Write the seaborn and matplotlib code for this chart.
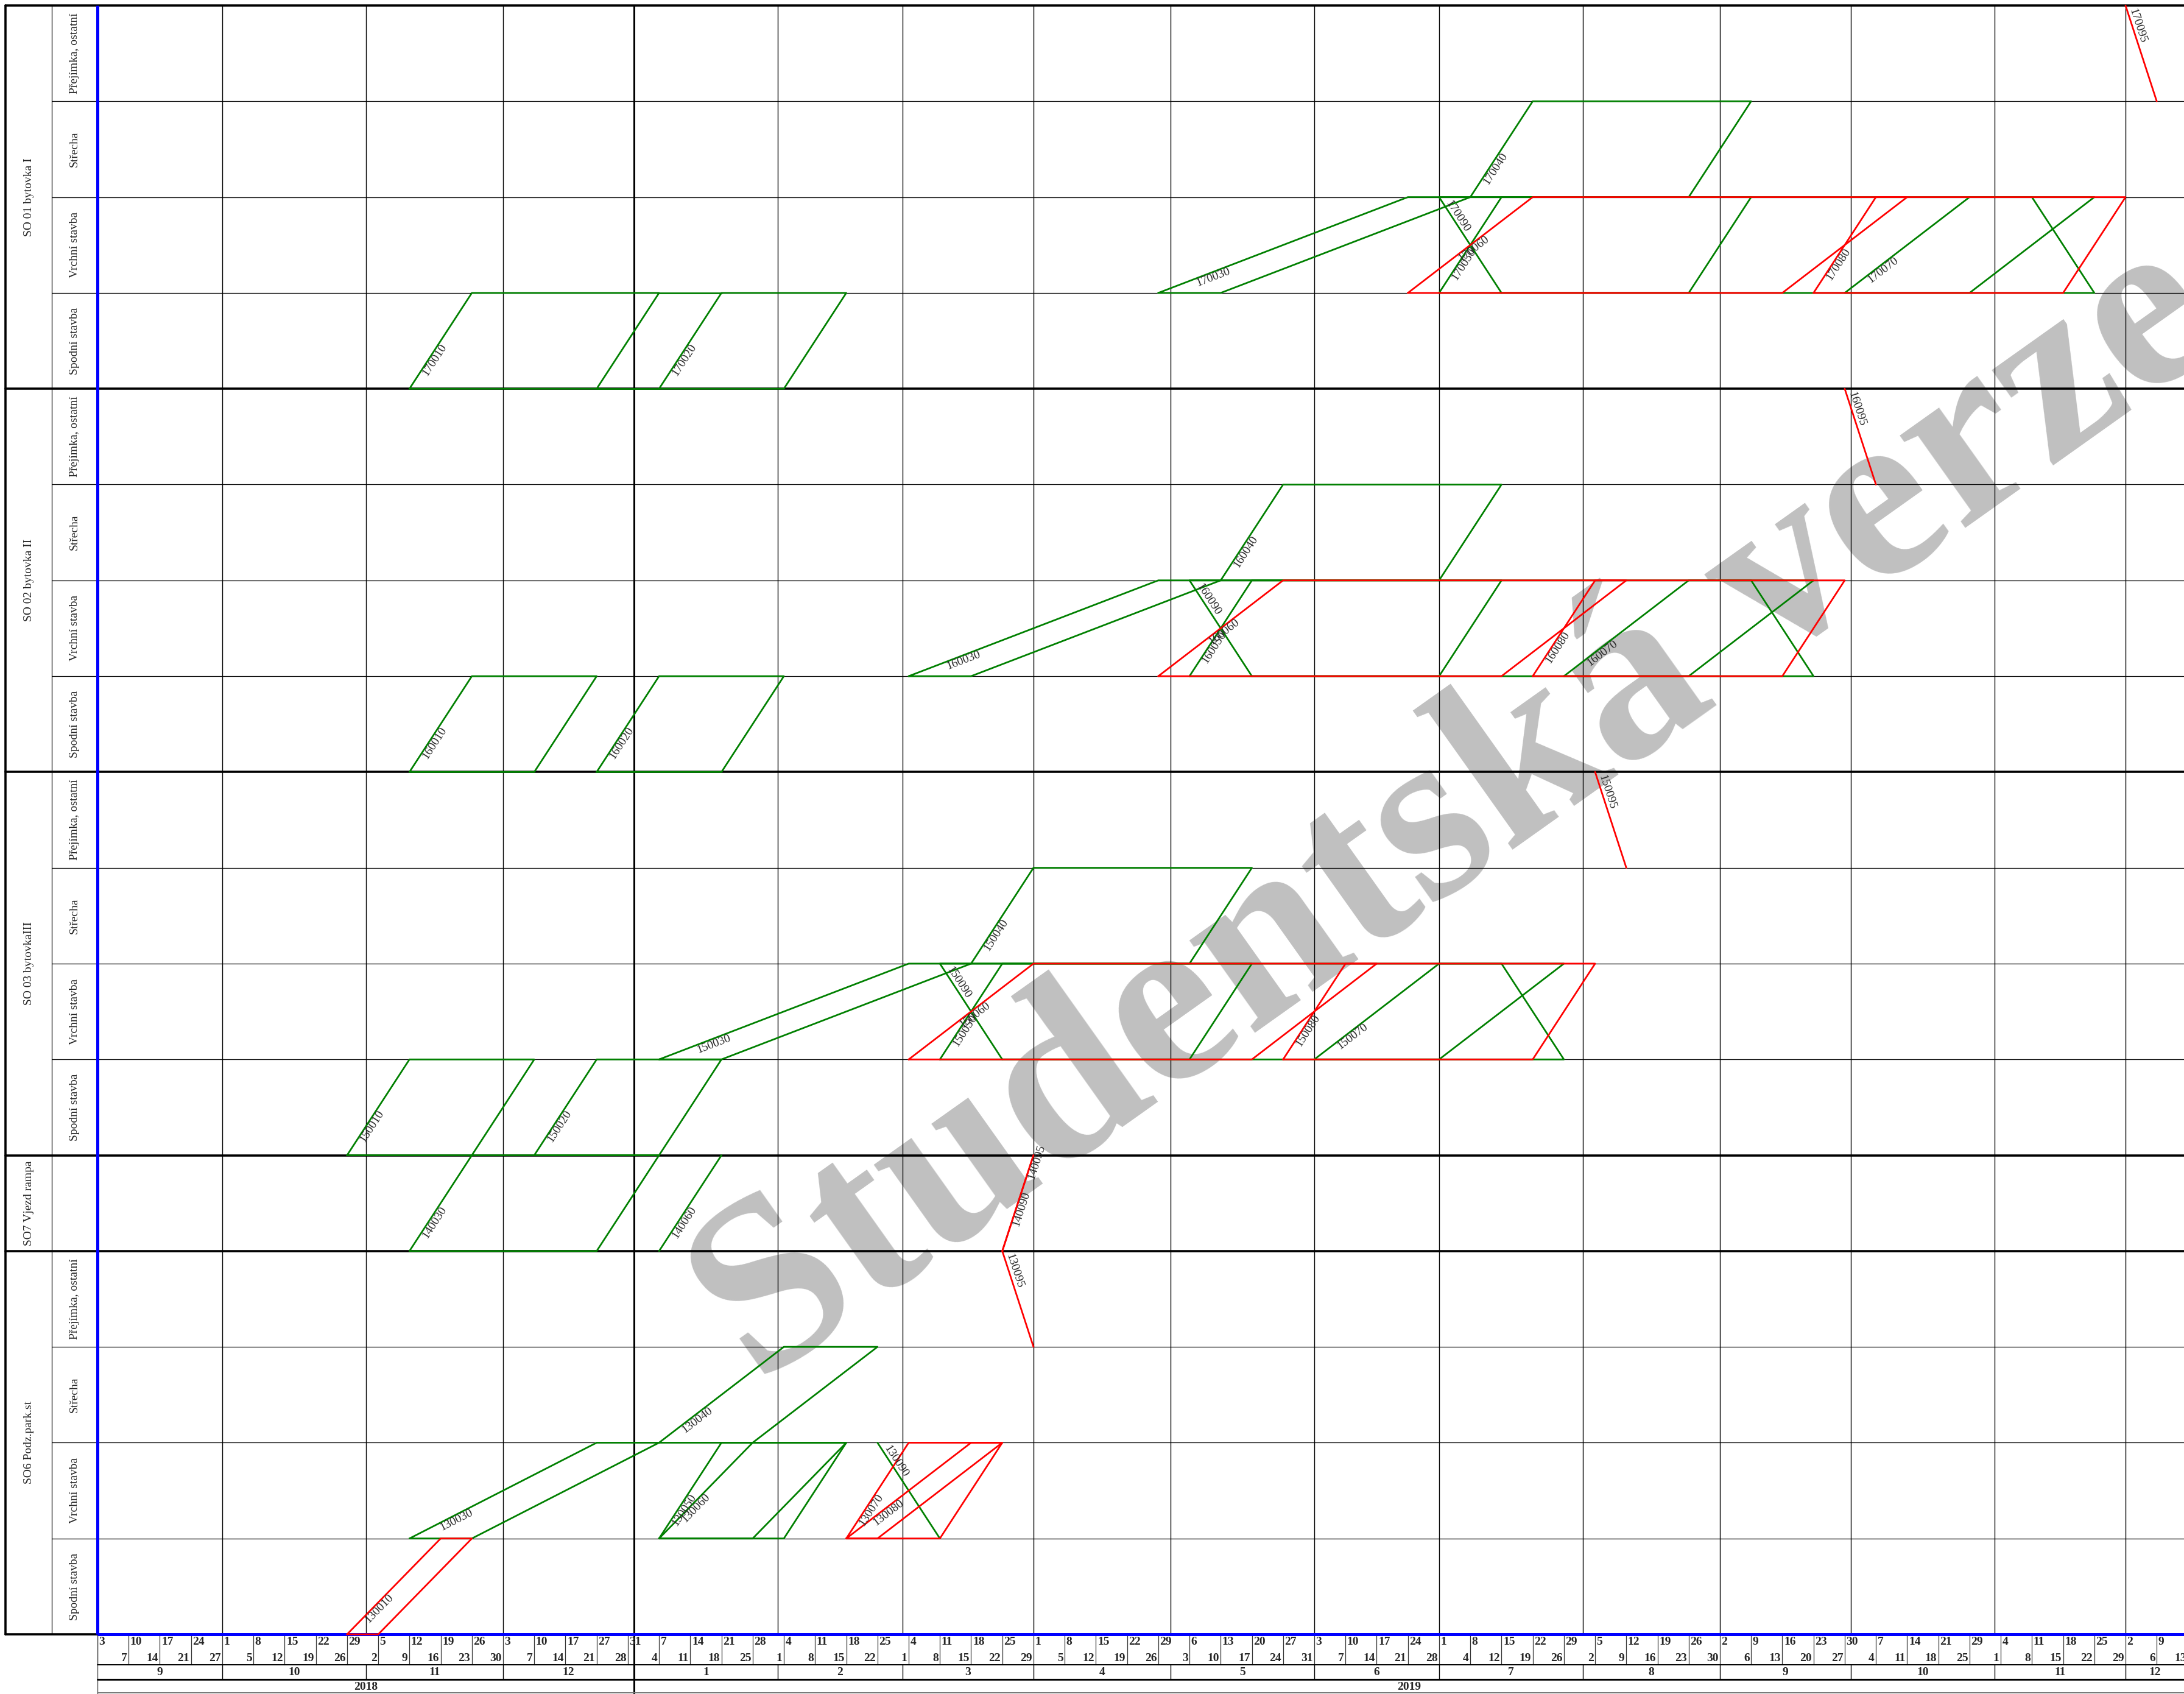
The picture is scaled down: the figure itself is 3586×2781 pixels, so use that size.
import numpy as np
import pandas as pd
import matplotlib
matplotlib.use("Agg")
import matplotlib.pyplot as plt
import seaborn as sns

sns.set_theme(style="white")
plt.rcParams["font.family"] = ["Liberation Serif", "DejaVu Serif"]

# ---------------------------------------------------------------- data
START = "2018-09-03"
holidays = ["2018-09-28", "2018-12-24", "2018-12-25", "2018-12-26", "2019-01-01",
            "2019-05-01", "2019-05-08", "2019-07-05", "2019-10-28"]

building_codes = ["SO01", "SO02", "SO03", "SO7", "SO6"]
building_names = ["SO 01 bytovka I", "SO 02 bytovka II", "SO 03 bytovkaIII",
                  "SO7 Vjezd rampa", "SO6 Podz.park.st"]
P, S, V, SP = "Přejímka, ostatní", "Střecha", "Vrchní stavba", "Spodní stavba"
building_sections = [[P, S, V, SP], [P, S, V, SP], [P, S, V, SP], [""], [P, S, V, SP]]

act_id = ["170095", "170040", "170030", "170090", "170050", "170060", "170080", "170070", "170010", "170020",
          "160095", "160040", "160030", "160090", "160050", "160060", "160080", "160070", "160010", "160020",
          "150095", "150040", "150030", "150090", "150050", "150060", "150080", "150070", "150010", "150020",
          "140030", "140060", "140090", "140095",
          "130095", "130040", "130030", "130050", "130060", "130090", "130070", "130080", "130010"]
act_building = ["SO01"] * 10 + ["SO02"] * 10 + ["SO03"] * 10 + ["SO7"] * 4 + ["SO6"] * 9
act_section = ([P, S, V, V, V, V, V, V, SP, SP] * 3 + [""] * 4 +
               [P, S, V, V, V, V, V, V, SP])
act_bottom_start = ["2019-12-09", "2019-07-08", "2019-04-29", "2019-07-15", "2019-07-01", "2019-06-24", "2019-09-23", "2019-09-30", "2018-11-12", "2019-01-07",
                    "2019-10-07", "2019-05-13", "2019-03-04", "2019-05-20", "2019-05-06", "2019-04-29", "2019-07-22", "2019-07-29", "2018-11-12", "2018-12-24",
                    "2019-08-12", "2019-03-18", "2019-01-07", "2019-03-25", "2019-03-11", "2019-03-04", "2019-05-27", "2019-06-03", "2018-10-29", "2018-12-10",
                    "2018-11-12", "2019-01-07", "2019-03-25", "2019-03-25",
                    "2019-04-01", "2019-01-07", "2018-11-12", "2019-01-07", "2019-01-07", "2019-03-11", "2019-02-18", "2019-02-18", "2018-10-29"]
act_top_start = ["2019-12-02", "2019-07-22", "2019-06-24", "2019-07-01", "2019-07-15", "2019-07-22", "2019-10-07", "2019-10-28", "2018-11-26", "2019-01-21",
                 "2019-09-30", "2019-05-27", "2019-04-29", "2019-05-06", "2019-05-20", "2019-05-27", "2019-08-05", "2019-08-26", "2018-11-26", "2019-01-07",
                 "2019-08-05", "2019-04-01", "2019-03-04", "2019-03-11", "2019-03-25", "2019-04-01", "2019-06-10", "2019-07-01", "2018-11-12", "2018-12-24",
                 "2018-11-26", "2019-01-21", "2019-04-01", "2019-04-01",
                 "2019-03-25", "2019-02-04", "2018-12-24", "2019-01-21", "2019-01-28", "2019-02-25", "2019-03-04", "2019-03-18", "2018-11-19"]
act_bottom_end = ["2019-12-09", "2019-08-26", "2019-05-13", "2019-11-25", "2019-08-26", "2019-09-16", "2019-11-18", "2019-10-28", "2018-12-24", "2019-02-04",
                  "2019-10-07", "2019-07-01", "2019-03-18", "2019-09-23", "2019-07-01", "2019-07-15", "2019-09-16", "2019-08-26", "2018-12-10", "2019-01-21",
                  "2019-08-12", "2019-05-06", "2019-01-21", "2019-07-29", "2019-05-06", "2019-05-20", "2019-07-22", "2019-07-01", "2018-11-26", "2019-01-07",
                  "2018-12-24", "2019-01-07", "2019-03-25", "2019-03-25",
                  "2019-04-01", "2019-01-28", "2018-11-26", "2019-02-04", "2019-01-28", "2019-03-11", "2019-03-11", "2019-02-25", "2018-11-05"]
act_top_end = ["2019-12-02", "2019-09-09", "2019-07-08", "2019-11-11", "2019-09-09", "2019-10-14", "2019-12-02", "2019-11-25", "2019-01-07", "2019-02-18",
               "2019-09-30", "2019-07-15", "2019-05-13", "2019-09-09", "2019-07-15", "2019-08-12", "2019-09-30", "2019-09-23", "2018-12-24", "2019-02-04",
               "2019-08-05", "2019-05-20", "2019-03-18", "2019-07-15", "2019-05-20", "2019-06-17", "2019-08-05", "2019-07-29", "2018-12-10", "2019-01-21",
               "2019-01-07", "2019-01-21", "2019-04-01", "2019-04-01",
               "2019-03-25", "2019-02-25", "2019-01-07", "2019-02-18", "2019-02-18", "2019-02-25", "2019-03-25", "2019-03-25", "2018-11-26"]
act_critical = [True, False, False, False, False, True, True, False, False, False,
                True, False, False, False, False, True, True, False, False, False,
                True, False, False, False, False, True, True, False, False, False,
                False, False, True, True,
                True, False, False, False, False, False, True, True, True]

link_building = ["SO01", "SO01"]
link_section = [SP, SP]
link_level = ["top", "bottom"]
link_from = ["2019-01-07", "2018-12-24"]
link_to = ["2019-01-21", "2019-01-07"]

# ---------------------------------------------------------------- layout / style
W, H, DPI = 3586, 2781, 100
PX_WD = (3490 - 160) / 325.0          # pixels per working day
ROW_PX = (2683 - 9) / 17.0
XMIN, XMAX = -160 / PX_WD, (W - 160) / PX_WD
YMIN, YMAX = -(H - 2683) / ROW_PX, 17 + 9 / ROW_PX
X_LEFT, X_DIV = (9 - 160) / PX_WD, (85 - 160) / PX_WD
WEEK_H, MONTH_H = 50 / ROW_PX, 24 / ROW_PX
GREEN, RED, BLUE = "#008000", "#ff0000", "#0000ff"
label_frac = {"170060": 0.39, "160060": 0.39, "150060": 0.39, "130060": 0.22,
              "130080": 0.20, "140090": 0.28, "140095": 0.77}


def wd(d):
    return int(np.busday_count(START, d))


rows = []
for code, secs in zip(building_codes, building_sections):
    for s_ in secs:
        rows.append((code, s_))
NR = len(rows)


def row_bottom(code, sec):
    return NR - 1 - rows.index((code, sec))


fig = plt.figure(figsize=(W / DPI, H / DPI), dpi=DPI)
ax = fig.add_axes([0, 0, 1, 1])
ax.set_xlim(XMIN, XMAX)
ax.set_ylim(YMIN, YMAX)
ax.set_axis_off()

# ---------------------------------------------------------------- grid
months = pd.date_range("2018-09-01", "2019-12-01", freq="MS")
month_x = [max(0, wd(m.strftime("%Y-%m-%d"))) for m in months]
year_x = wd("2019-01-01")

for mx in month_x[1:]:
    lw = 2.2 if mx == year_x else 1.0
    ax.plot([mx, mx], [0, NR], color="black", lw=lw, zorder=2)
    ax.plot([mx, mx], [-WEEK_H, -WEEK_H - MONTH_H], color="black", lw=lw, zorder=2)
ax.plot([year_x, year_x], [YMIN, 0], color="black", lw=2.2, zorder=2)

# horizontal row lines
bstarts = []
acc = 0
for secs in building_sections[::-1]:
    bstarts.append(acc)
    acc += len(secs)
for y in range(1, NR):
    if y in bstarts:
        ax.plot([X_LEFT, XMAX], [y, y], color="black", lw=2.6, zorder=3)
    else:
        ax.plot([X_DIV, XMAX], [y, y], color="black", lw=0.9, zorder=2)
ax.plot([X_LEFT, XMAX], [NR, NR], color="black", lw=2.6, zorder=3)
ax.plot([X_LEFT, X_LEFT], [0, NR], color="black", lw=2.6, zorder=3)
ax.plot([X_LEFT, 0], [0, 0], color="black", lw=2.6, zorder=3)
ax.plot([X_DIV, X_DIV], [0, NR], color="black", lw=0.9, zorder=2)

# blue axes lines
ax.plot([0, 0], [0, NR], color=BLUE, lw=3.6, zorder=4, solid_capstyle="butt")
ax.plot([0, XMAX], [0, 0], color=BLUE, lw=3.6, zorder=4, solid_capstyle="butt")

# left labels
y_cursor = NR
for name, secs in zip(building_names, building_sections):
    n = len(secs)
    ax.text((X_LEFT + X_DIV) / 2, y_cursor - n / 2, name, rotation=90, ha="center",
            va="center", fontsize=14, zorder=6)
    for k, s_ in enumerate(secs):
        if s_:
            ax.text(X_DIV / 2, y_cursor - k - 0.5, s_, rotation=90, ha="center",
                    va="center", fontsize=14, zorder=6)
    y_cursor -= n

# ---------------------------------------------------------------- time axis
hol = set(pd.to_datetime(holidays))
mondays = pd.date_range(START, periods=67, freq="7D")
week_top, week_bottom = [], []
for m in mondays:
    work = [m + pd.Timedelta(days=k) for k in range(5)]
    work = [d for d in work if d not in hol]
    week_top.append(str(work[0].day))
    week_bottom.append(str(work[-1].day))

for i, (t, b) in enumerate(zip(week_top, week_bottom)):
    x0 = 5 * i
    ax.plot([x0, x0], [0, -WEEK_H], color="#333333", lw=0.9, zorder=2)
    ax.text(x0 + 0.25, -0.025, t, ha="left", va="top", fontsize=14,
            fontweight="bold", zorder=6)
    ax.text(x0 + 5 - 0.25, -WEEK_H + 0.01, b, ha="right", va="bottom", fontsize=14,
            fontweight="bold", zorder=6)

ax.plot([0, XMAX], [-WEEK_H, -WEEK_H], color="black", lw=1.4, zorder=3)
ax.plot([0, XMAX], [-WEEK_H - MONTH_H, -WEEK_H - MONTH_H], color="black", lw=2.2, zorder=3)
ax.plot([0, XMAX], [YMIN + 0.01, YMIN + 0.01], color="#777777", lw=1.4, zorder=3)
ax.plot([0, 0], [YMIN, 0], color="#555555", lw=1.0, zorder=2)

month_edges = month_x + [XMAX]
for k, m in enumerate(months):
    cx = (month_edges[k] + month_edges[k + 1]) / 2
    ax.text(cx, -WEEK_H - MONTH_H / 2, str(m.month), ha="center", va="center",
            fontsize=14, fontweight="bold", zorder=6)
year_labels = ["2018", "2019"]
year_edges = [0, year_x, XMAX]
for k, yl in enumerate(year_labels):
    ax.text((year_edges[k] + year_edges[k + 1]) / 2, (YMIN - WEEK_H - MONTH_H) / 2, yl,
            ha="center", va="center", fontsize=14, fontweight="bold", zorder=6)

# ---------------------------------------------------------------- activities
recs = []
for i, aid in enumerate(act_id):
    y0 = row_bottom(act_building[i], act_section[i])
    y1 = y0 + 1
    bs, ts = wd(act_bottom_start[i]), wd(act_top_start[i])
    be, te = wd(act_bottom_end[i]), wd(act_top_end[i])
    if bs == be and ts == te:
        pts = [(bs, y0), (ts, y1)]
    else:
        pts = [(bs, y0), (ts, y1), (te, y1), (be, y0), (bs, y0)]
    for k, (x, y) in enumerate(pts):
        recs.append(dict(seg=f"{aid}_{i}", x=x, y=y, critical=act_critical[i]))
for j in range(len(link_from)):
    y = row_bottom(link_building[j], link_section[j]) + (1 if link_level[j] == "top" else 0)
    for d in (link_from[j], link_to[j]):
        recs.append(dict(seg=f"link{j}", x=wd(d), y=y, critical=False))
df = pd.DataFrame(recs)

for crit, color in [(False, GREEN), (True, RED)]:
    sub = df[df["critical"] == crit]
    sns.lineplot(data=sub, x="x", y="y", units="seg", estimator=None, sort=False,
                 color=color, linewidth=2.0, ax=ax, legend=False, zorder=5)

ax.set_xlim(XMIN, XMAX)
ax.set_ylim(YMIN, YMAX)
ax.set_axis_off()

# activity labels
LABEL_H = 16.0
for i, aid in enumerate(act_id):
    y0 = row_bottom(act_building[i], act_section[i])
    bs, ts = wd(act_bottom_start[i]), wd(act_top_start[i])
    forward = ts >= bs
    if forward:
        pa, pb = (bs, y0), (ts, y0 + 1)
    else:
        pa, pb = (ts, y0 + 1), (bs, y0)
    a = ax.transData.transform(pa)
    b = ax.transData.transform(pb)
    d = b - a
    L = np.hypot(*d)
    u = d / L
    ang = np.degrees(np.arctan2(u[1], u[0]))
    tan_a = abs(u[1]) / max(abs(u[0]), 1e-6)
    if aid in label_frac:
        s_ = label_frac[aid] * L
    else:
        s_ = LABEL_H / tan_a + (22 if forward else 3)
    pos = a + u * s_
    xd, yd = ax.transData.inverted().transform(pos)
    ax.text(xd, yd, aid, rotation=ang, rotation_mode="anchor", ha="left",
            va="top" if forward else "bottom", fontsize=14, zorder=6)

# watermark
ax.text(1244 / W, 1 - 2276 / H, "Studentská verze", transform=fig.transFigure,
        rotation=35.4, rotation_mode="anchor", ha="left", va="baseline",
        fontsize=292, fontweight="bold", color="#c0c0c0", zorder=0.5, clip_on=False)

fig.savefig("out.png", dpi=DPI, facecolor="white")
